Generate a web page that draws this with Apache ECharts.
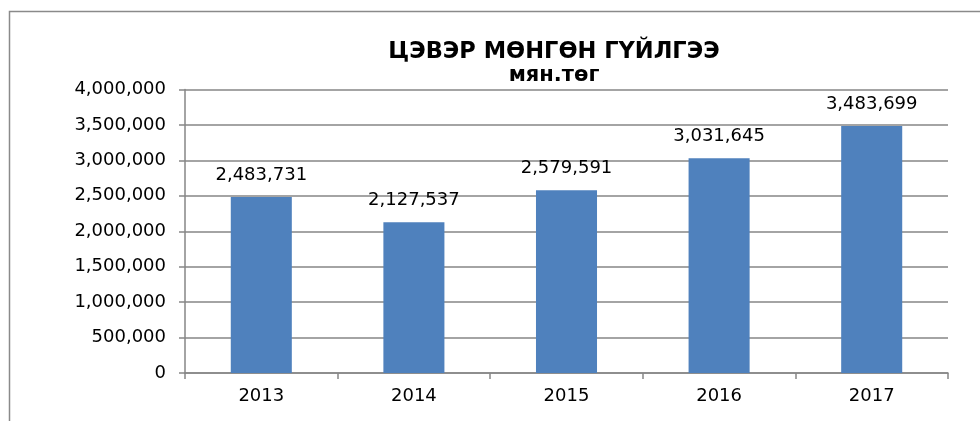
<!DOCTYPE html>
<html>
<head>
<meta charset="utf-8">
<script src="https://cdn.jsdelivr.net/npm/echarts@6/dist/echarts.min.js"></script>
<style>
html,body{margin:0;padding:0;background:#fff;}
#chart{width:980px;height:421px;}
</style>
</head>
<body>
<div id="chart"></div>
<script>
const titleText = 'ЦЭВЭР МӨНГӨН ГҮЙЛГЭЭ';
const subtitleText = 'мян.төг';
const categories = ['2013', '2014', '2015', '2016', '2017'];
const values = [2483731, 2127537, 2579591, 3031645, 3483699];
const yMin = 0, yMax = 4000000, yStep = 500000;

const fmt = v => Math.round(v).toString().replace(/\B(?=(\d{3})+(?!\d))/g, ',');

const chart = echarts.init(document.getElementById('chart'), null, {renderer: 'canvas'});
chart.setOption({
  animation: false,
  backgroundColor: '#fff',
  textStyle: {fontFamily: 'DejaVu Sans'},
  graphic: [{
    type: 'rect',
    shape: {x: 9.5, y: 11.5, width: 1200, height: 600},
    style: {fill: 'none', stroke: '#8a8a8a', lineWidth: 1.5},
    silent: true
  }],
  title: {
    text: titleText,
    subtext: subtitleText,
    left: 549,
    top: 34,
    textAlign: 'center',
    itemGap: 0,
    textStyle: {fontFamily: 'DejaVu Sans', fontWeight: 'bold', fontSize: 22.5, color: '#000', lineHeight: 26},
    subtextStyle: {fontFamily: 'DejaVu Sans', fontWeight: 'bold', fontSize: 21, color: '#000', lineHeight: 22}
  },
  grid: {left: 185, right: 32, top: 89.5, bottom: 48, containLabel: false},
  xAxis: {
    type: 'category',
    data: categories,
    axisLine: {lineStyle: {color: '#868686', width: 1.5}},
    axisTick: {show: true, length: 6, lineStyle: {color: '#868686', width: 1.5}},
    axisLabel: {color: '#000', fontSize: 18, margin: 14, fontFamily: 'DejaVu Sans'}
  },
  yAxis: {
    type: 'value',
    min: yMin, max: yMax, interval: yStep,
    axisLine: {show: true, lineStyle: {color: '#868686', width: 1.5}},
    axisTick: {show: true, length: 6, lineStyle: {color: '#868686', width: 1.5}},
    splitLine: {lineStyle: {color: '#868686', width: 1.5}},
    axisLabel: {color: '#000', fontSize: 18, margin: 19, fontFamily: 'DejaVu Sans', formatter: fmt}
  },
  series: [{
    type: 'bar',
    data: values,
    barWidth: '40%',
    itemStyle: {color: '#4F81BD'},
    label: {
      show: true, position: 'top', distance: 13,
      color: '#000', fontSize: 18, fontFamily: 'DejaVu Sans',
      formatter: p => fmt(p.value)
    }
  }]
});
</script>
</body>
</html>
